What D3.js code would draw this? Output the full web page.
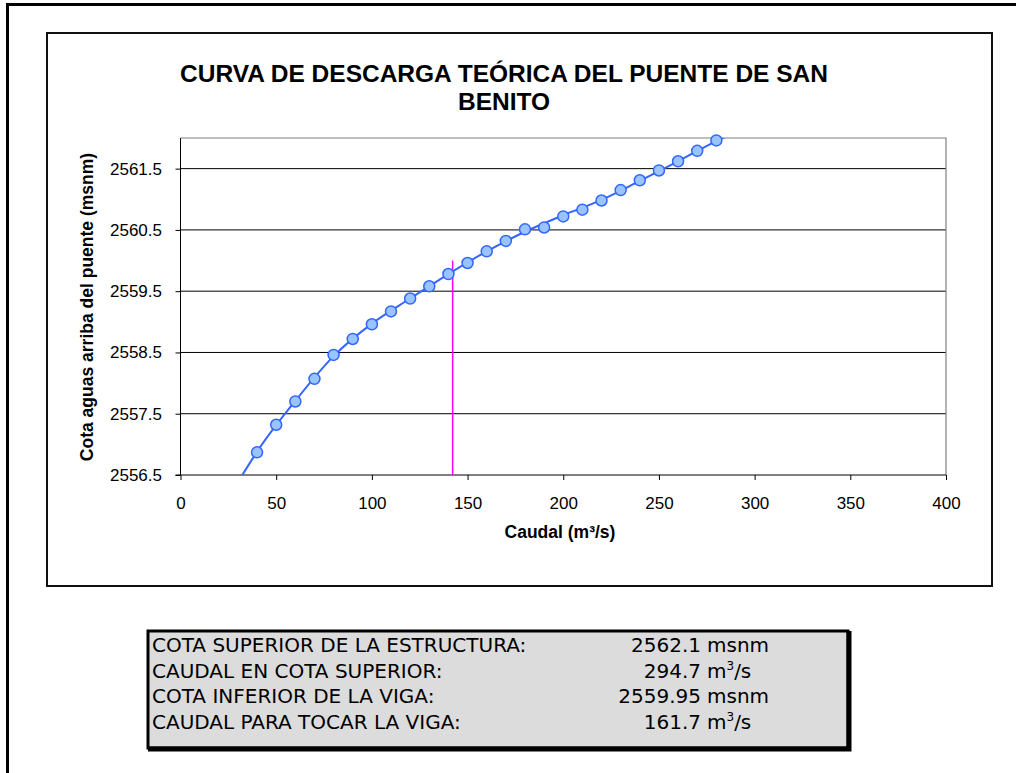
<!DOCTYPE html>
<html>
<head>
<meta charset="utf-8">
<script src="https://cdn.jsdelivr.net/npm/d3@7"></script>
<style>
  body { margin: 0; background: #fff; }
  svg { display: block; }
</style>
</head>
<body>
<svg width="1016" height="773"></svg>
<script>

// datos
const caudal = [40, 50, 60, 70, 80, 90, 100, 110, 120, 130, 140, 150, 160, 170, 180, 190, 200, 210, 220, 230, 240, 250, 260, 270, 280];
const cota = [2556.87, 2557.32, 2557.70, 2558.07, 2558.46, 2558.72, 2558.96, 2559.17, 2559.38, 2559.58, 2559.78, 2559.96, 2560.15, 2560.32, 2560.51, 2560.54, 2560.72, 2560.83, 2560.98, 2561.15, 2561.31, 2561.47, 2561.62, 2561.79, 2561.96];

// linea de tendencia
const tendencia_q = [32.3, 40, 60, 80, 100, 120, 140, 160, 180, 200, 220, 240, 260, 280, 285.5];
const tendencia_z = [2556.5, 2556.88, 2557.71, 2558.44, 2558.97, 2559.38, 2559.78, 2560.15, 2560.47, 2560.74, 2560.99, 2561.30, 2561.62, 2561.95, 2562.03];

// linea de la viga
const viga_q = [142.2, 142.2];
const viga_z = [2556.5, 2560.0];

const x_ticks = [0, 50, 100, 150, 200, 250, 300, 350, 400];
const y_ticks = [2556.5, 2557.5, 2558.5, 2559.5, 2560.5, 2561.5];

const titulo = ["CURVA DE DESCARGA TEÓRICA DEL PUENTE DE SAN", "BENITO"];

const tabla_etiquetas = ["COTA SUPERIOR DE LA ESTRUCTURA:", "CAUDAL EN COTA SUPERIOR:", "COTA INFERIOR DE LA VIGA:", "CAUDAL PARA TOCAR LA VIGA:"];
const tabla_valores = ["2562.1", "294.7", "2559.95", "161.7"];
const tabla_unidades = ["msnm", "m3/s", "msnm", "m3/s"];

const vis = {

    dims : {
        left : 180.5,
        right : 946,
        top : 138,
        bottom : 475
    },

    sels : {
        svg : null
    },

    scales : {
        x : null,
        y : null
    },

    render : {

        marcos : function() {

            // marco exterior (solo izquierda y arriba)
            vis.sels.svg.append("path")
              .attr("d", "M7.5,773V4.5H1016")
              .attr("fill", "none")
              .attr("stroke", "#000")
              .attr("stroke-width", 3);

            // area del grafico
            vis.sels.svg.append("rect")
              .attr("x", 47).attr("y", 33)
              .attr("width", 945).attr("height", 553)
              .attr("fill", "#fff")
              .attr("stroke", "#111")
              .attr("stroke-width", 2);

        },

        titulo : function() {

            vis.sels.svg.append("text")
              .attr("x", 504)
              .attr("y", 82)
              .attr("text-anchor", "middle")
              .style("font", "bold 24.5px 'Liberation Sans', Arial, sans-serif")
              .selectAll("tspan")
              .data(titulo)
              .join("tspan")
              .attr("x", 504)
              .attr("dy", (d,i) => i == 0 ? 0 : 28)
              .text(d => d);

        },

        ejes : function() {

            const d = vis.dims;
            const x = vis.scales.x;
            const y = vis.scales.y;
            const svg = vis.sels.svg;

            // lineas de division
            svg.append("g")
              .selectAll("line")
              .data(y_ticks.slice(1))
              .join("line")
              .attr("x1", d.left).attr("x2", d.right)
              .attr("y1", v => y(v)).attr("y2", v => y(v))
              .attr("stroke", "#000")
              .attr("stroke-width", 1);

            // borde superior y derecho
            svg.append("path")
              .attr("d", `M${d.left},${d.top}H${d.right}V${d.bottom}`)
              .attr("fill", "none")
              .attr("stroke", "#808080")
              .attr("stroke-width", 1.2);

            const fuente = "17px 'Liberation Sans', Arial, sans-serif";

            const ejeY = d3.axisLeft(y)
              .tickValues(y_ticks)
              .tickSize(5)
              .tickPadding(13.5)
              .tickFormat(d3.format(".1f"));

            svg.append("g")
              .attr("transform", `translate(${d.left},0)`)
              .call(ejeY)
              .call(g => g.select(".domain").attr("stroke", "#000").attr("d", `M-5,${y(y_ticks[0])}H0V${d.top}`))
              .call(g => g.selectAll("text").style("font", fuente).attr("fill", "#000"));

            const ejeX = d3.axisBottom(x)
              .tickValues(x_ticks)
              .tickSize(5)
              .tickPadding(17)
              .tickFormat(d3.format("d"));

            svg.append("g")
              .attr("transform", `translate(0,${d.bottom})`)
              .call(ejeX)
              .call(g => g.select(".domain").attr("stroke", "#000").attr("d", `M${d.left},0H${d.right}`))
              .call(g => g.selectAll("text").style("font", fuente).attr("fill", "#000"));

            // titulos de ejes
            svg.append("text")
              .attr("x", 560)
              .attr("y", 538)
              .attr("text-anchor", "middle")
              .style("font", "bold 17.5px 'Liberation Sans', Arial, sans-serif")
              .text("Caudal (m³/s)");

            svg.append("text")
              .attr("transform", "translate(93,307) rotate(-90)")
              .attr("text-anchor", "middle")
              .style("font", "bold 17.5px 'Liberation Sans', Arial, sans-serif")
              .text("Cota aguas arriba del puente (msnm)");

        },

        serie : function() {

            const d = vis.dims;
            const x = vis.scales.x;
            const y = vis.scales.y;
            const svg = vis.sels.svg;

            svg.append("clipPath")
              .attr("id", "recorte")
              .append("rect")
              .attr("x", d.left).attr("y", d.top)
              .attr("width", d.right - d.left).attr("height", d.bottom - d.top);

            const linea = d3.line()
              .x(v => x(v[0]))
              .y(v => y(v[1]))
              .curve(d3.curveMonotoneX);

            // viga
            svg.append("path")
              .datum(d3.zip(viga_q, viga_z))
              .attr("d", linea)
              .attr("stroke", "#ff00ff")
              .attr("stroke-width", 1.5)
              .attr("fill", "none");

            // tendencia
            svg.append("path")
              .datum(d3.zip(tendencia_q, tendencia_z))
              .attr("clip-path", "url(#recorte)")
              .attr("d", linea)
              .attr("stroke", "#3366ff")
              .attr("stroke-width", 2)
              .attr("fill", "none");

            // puntos
            svg.append("g")
              .selectAll("circle")
              .data(d3.zip(caudal, cota))
              .join("circle")
              .attr("cx", v => x(v[0]))
              .attr("cy", v => y(v[1]))
              .attr("r", 5.5)
              .attr("fill", "#99c4ff")
              .attr("stroke", "#3366ff")
              .attr("stroke-width", 1.5);

        },

        tabla : function() {

            const svg = vis.sels.svg;
            const fuente = "20px Tahoma, 'DejaVu Sans', sans-serif";

            svg.append("rect")
              .attr("x", 148).attr("y", 631)
              .attr("width", 700).attr("height", 117)
              .attr("fill", "#dcdcdc")
              .attr("stroke", "#000")
              .attr("stroke-width", 3);

            // sombra derecha e inferior
            svg.append("path")
              .attr("d", "M849,631V749H148")
              .attr("fill", "none")
              .attr("stroke", "#000")
              .attr("stroke-width", 5);

            const filas = svg.append("g")
              .selectAll("g")
              .data(tabla_etiquetas)
              .join("g")
              .attr("transform", (t,i) => `translate(0,${652 + i * 25.7})`);

            filas.append("text")
              .attr("x", 152)
              .style("font", fuente)
              .text(t => t);

            filas.append("text")
              .attr("x", 701)
              .attr("text-anchor", "end")
              .style("font", fuente)
              .text((t,i) => tabla_valores[i]);

            const unidades = filas.append("text")
              .attr("x", 707)
              .style("font", fuente);

            unidades.each(function(t,i) {
                const u = tabla_unidades[i];
                const sel = d3.select(this);
                if (u == "m3/s") {
                    sel.append("tspan").text("m");
                    sel.append("tspan").attr("dy", -8).style("font-size", "12px").text("3");
                    sel.append("tspan").attr("dy", 8).text("/s");
                } else {
                    sel.text(u);
                }
            });

        }

    },

    control : {

        init : function() {

            vis.sels.svg = d3.select("svg");

            vis.scales.x = d3.scaleLinear().domain([0, 400]).range([vis.dims.left, vis.dims.right]);
            vis.scales.y = d3.scaleLinear().domain([2556.5, 2562]).range([vis.dims.bottom, vis.dims.top]);

            vis.render.marcos();
            vis.render.titulo();
            vis.render.ejes();
            vis.render.serie();
            vis.render.tabla();

        }

    }

}

vis.control.init();
</script>
</body>
</html>
